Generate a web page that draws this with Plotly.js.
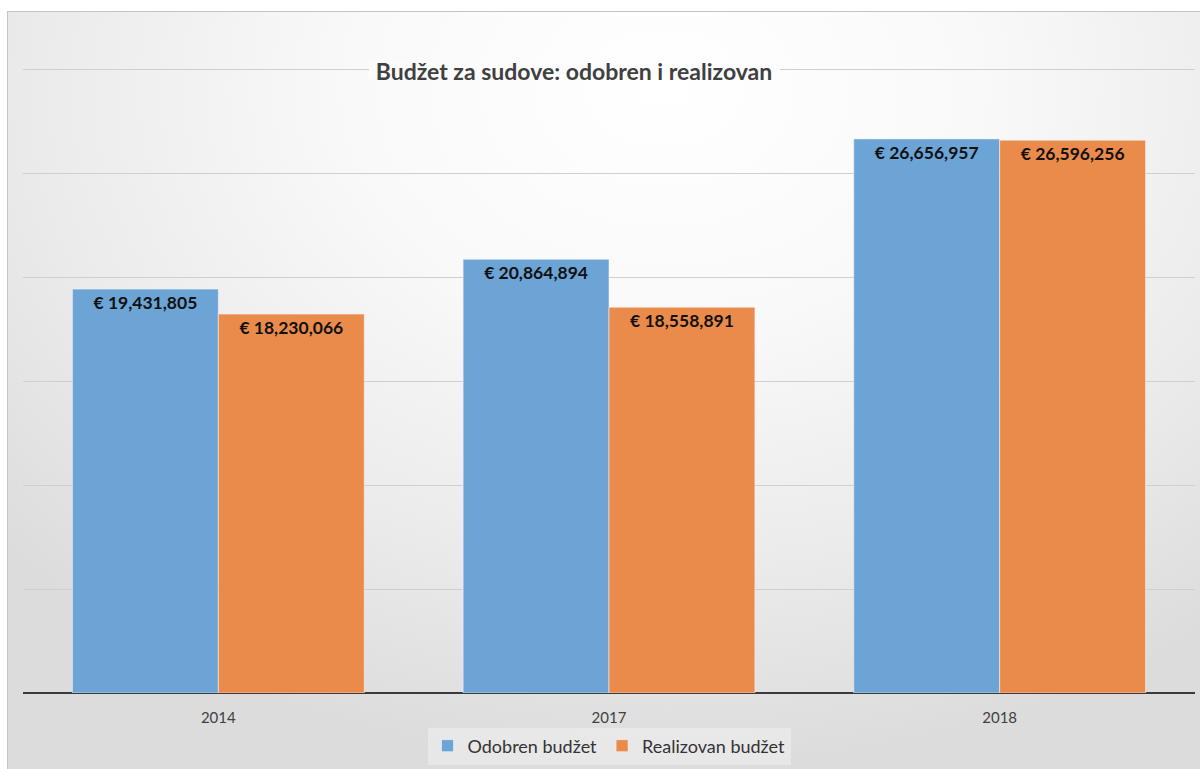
<!DOCTYPE html>
<html>
<head>
<meta charset="utf-8">
<script src="https://cdn.plot.ly/plotly-3.0.1.min.js"></script>
<style>
  html, body { margin: 0; padding: 0; width: 1200px; height: 769px; overflow: hidden; background: #ffffff; }
  #frame {
    position: absolute; left: 7px; top: 11px; width: 1193px; height: 758px;
    border-left: 1px solid #c4c4c4; border-top: 1px solid #c4c4c4;
    background: radial-gradient(ellipse 75% 90% at 55% 10%, #ffffff 0%, #f9f9f9 35%, #ebebeb 70%, #dcdcdc 100%);
  }
  #chart { position: absolute; left: 0; top: 0; width: 1200px; height: 769px; }
</style>
</head>
<body>
<div id="frame"></div>
<div id="chart"></div>
<script>
const categories = ["2014", "2017", "2018"];
const odobren = [19431805, 20864894, 26656957];
const realizovan = [18230066, 18558891, 26596256];
const seriesNames = ["Odobren budžet", "Realizovan budžet"];
const titleText = "Budžet za sudove: odobren i realizovan";

const labelFont = { family: "Lato, 'Open Sans', sans-serif", size: 17.5, color: "#111111", weight: "bold" };

function barTrace(name, values, color) {
  return {
    type: "bar",
    name: name,
    x: categories,
    y: values,
    marker: { color: color, line: { color: "#f4f4f4", width: 0.6 } },
    texttemplate: "€ %{y:,.0f}",
    textposition: "inside",
    insidetextanchor: "end",
    textangle: 0,
    constraintext: "none",
    insidetextfont: labelFont,
    hoverinfo: "skip"
  };
}

const data = [
  barTrace(seriesNames[0], odobren, "#6ca4d6"),
  barTrace(seriesNames[1], realizovan, "#eb8b4b")
];

const layout = {
  width: 1200,
  height: 769,
  margin: { l: 23, r: 5, t: 59, b: 76, pad: 0 },
  paper_bgcolor: "rgba(0,0,0,0)",
  plot_bgcolor: "rgba(0,0,0,0)",
  barmode: "group",
  bargap: 0.253,
  bargroupgap: 0,
  title: {
    text: "<b>" + titleText + "</b>",
    font: { family: "Lato, 'Open Sans', sans-serif", size: 23, color: "#404040" },
    x: 574 / 1200,
    xanchor: "center",
    y: 1 - 72 / 769,
    yanchor: "middle",
    yref: "container",
    xref: "container"
  },
  xaxis: {
    type: "category",
    showgrid: false,
    showline: false,
    zeroline: false,
    ticks: "outside",
    ticklen: 11,
    tickcolor: "rgba(0,0,0,0)",
    tickfont: { family: "Lato, 'Open Sans', sans-serif", size: 15, color: "#404040" },
    fixedrange: true
  },
  yaxis: {
    range: [0, 30500000],
    dtick: 5000000,
    showgrid: true,
    gridcolor: "#cfcfcf",
    gridwidth: 1,
    showticklabels: false,
    zeroline: true,
    zerolinecolor: "#3a3a3a",
    zerolinewidth: 2,
    showline: false,
    fixedrange: true
  },
  shapes: [{
    type: "rect",
    xref: "paper", yref: "y",
    x0: (369 - 23) / 1172, x1: (780 - 23) / 1172,
    y0: 29700000, y1: 30300000,
    fillcolor: "#fcfcfc",
    line: { width: 0 },
    layer: "above"
  }],
  legend: {
    orientation: "h",
    x: 0.5,
    xanchor: "center",
    y: -53 / 634,
    yanchor: "middle",
    bgcolor: "rgba(240,240,240,0.55)",
    font: { family: "Lato, 'Open Sans', sans-serif", size: 18, color: "#333333" },
    itemwidth: 30,
    traceorder: "normal"
  },
  showlegend: true
};

Plotly.newPlot("chart", data, layout, { displayModeBar: false, staticPlot: true });
</script>
</body>
</html>
